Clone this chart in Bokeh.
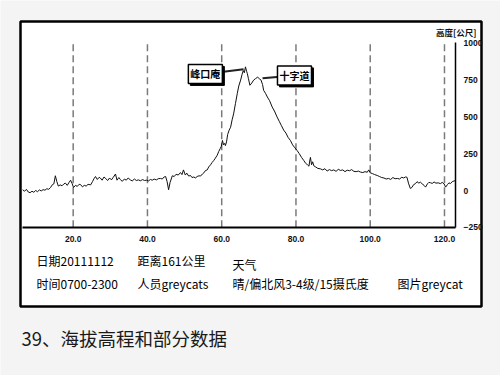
from bokeh.plotting import figure
from bokeh.models import Range1d, FixedTicker, NumeralTickFormatter, Label, BoxAnnotation
from bokeh.embed import file_html
from bokeh.resources import INLINE

# ---- data ----
distance_km = [
    6.4, 6.9, 7.4, 7.9, 8.4, 8.9, 9.4, 9.9, 10.4, 10.9, 11.4, 11.9, 12.4, 12.9, 13.4, 13.9,
    14.4, 14.8, 15.2, 15.6, 16.0, 16.5, 17.0, 17.5, 17.9, 18.4, 18.9, 19.3, 19.7, 20.1, 20.6,
    21.1, 21.6, 22.0, 22.5, 23.0, 23.5, 24.0, 24.7, 25.2, 25.6, 26.0, 26.5, 27.0, 27.3, 27.8,
    28.3, 28.8, 29.3, 29.8, 30.3, 30.8, 31.4, 31.8, 32.3, 32.7, 33.2, 33.8, 34.3, 34.8, 35.4,
    35.9, 36.5, 37.0, 37.6, 38.1, 38.7, 39.2, 39.8, 40.3, 40.8, 41.3, 41.8, 42.4, 42.9, 43.5,
    44.0, 44.5, 44.9, 45.3, 45.7, 46.1, 46.7, 47.2, 47.7, 48.3, 48.9, 49.3, 49.7, 50.2, 50.6,
    51.1, 51.6, 52.0, 52.5, 52.9, 53.4, 53.9, 54.3, 54.8, 55.2, 55.6, 56.1, 56.5, 57.0, 57.4,
    57.9, 58.3, 58.8, 59.2, 59.6, 59.9, 60.2, 60.5, 60.8, 61.0, 61.3, 61.6, 62.0, 62.4, 62.8,
    63.2, 63.7, 64.2, 64.6, 65.1, 65.5, 65.8, 66.1, 66.4, 66.7, 66.9, 67.2, 67.6, 68.1, 68.6,
    69.1, 69.7, 70.1, 70.6, 71.0, 71.3, 71.8, 72.3, 72.9, 73.6, 74.2, 74.9, 75.5, 76.1, 76.7,
    77.3, 77.9, 78.5, 79.1, 79.7, 80.3, 80.9, 81.5, 82.1, 82.6, 83.1, 83.5, 83.7, 83.9, 84.2,
    84.5, 84.8, 85.3, 85.9, 86.6, 87.2, 87.8, 88.4, 89.0, 89.6, 90.2, 90.8, 91.4, 92.0, 92.6,
    93.2, 93.8, 94.4, 95.0, 95.6, 96.2, 96.8, 97.4, 98.0, 98.6, 99.2, 99.6, 100.0, 100.6, 101.2,
    101.9, 102.5, 103.1, 103.7, 104.3, 104.9, 105.5, 106.1, 106.7, 107.3, 107.9, 108.5, 109.0,
    109.5, 109.9, 110.3, 110.8, 111.2, 111.7, 112.2, 112.6, 113.1, 113.5, 114.0, 114.5, 114.9,
    115.4, 115.8, 116.2, 116.7, 117.2, 117.7, 118.3, 118.9, 119.4, 119.9, 120.3, 120.8, 121.2,
    121.6, 122.1, 122.6, 123.0,
]
elevation_m = [
    5, -5, 8, -10, -15, -5, -12, 0, -8, 4, -3, 6, 2, 12, 8, 20,
    40, 45, 100, 60, 30, 38, 32, 45, 50, 35, 55, 70, 48, 20, 35,
    28, 42, 40, 25, 35, 30, 42, 38, 60, 80, 95, 75, 90, 85, 70,
    92, 80, 68, 85, 72, 90, 112, 70, 88, 75, 62, 78, 70, 85, 72,
    65, 78, 68, 72, 66, 74, 68, 70, 65, 75, 70, 78, 72, 80, 82,
    78, 92, 95, 60, 5, 55, 100, 95, 110, 105, 122, 108, 140, 105, 118,
    98, 102, 88, 92, 85, 95, 100, 98, 112, 120, 135, 140, 160, 175, 190,
    205, 220, 240, 265, 285, 300, 340, 310, 320, 305, 330, 380, 410, 430, 480,
    520, 590, 660, 710, 750, 790, 815, 800, 840, 810, 795, 760, 715, 730, 750,
    760, 770, 760, 750, 720, 680, 660, 635, 610, 567, 540, 500, 470, 440, 410,
    390, 360, 340, 310, 290, 272, 250, 225, 204, 185, 175, 165, 200, 225, 175,
    195, 168, 160, 150, 147, 140, 148, 132, 142, 135, 140, 130, 144, 136, 140,
    128, 138, 134, 142, 130, 128, 132, 125, 122, 128, 124, 140, 120, 115, 108,
    102, 95, 88, 85, 78, 82, 75, 88, 80, 82, 78, 90, 85,
    92, 90, 50, 14, 20, 40, 47, 60, 50, 57, 45, 35, 23,
    45, 55, 53, 48, 58, 50, 52, 47, 55, 45, 23, 40, 52,
    47, 60, 65, 68,
]
x_ticks = [20, 40, 60, 80, 100, 120]
y_ticks = [-250, 0, 250, 500, 750, 1000]
x_extent = (6.35, 122.96)     # distance shown on the chart
y_extent = (-250, 1005)       # elevation shown on the chart
y_axis_title = "高度[公尺]"

callout_names = ["峰口庵", "十字道"]
callout_point_km = [65.9, 71.0]
callout_point_m = [823, 762]
callout_label_km = [55.6, 79.6]
callout_label_m = [792, 782]

info_row1 = ["日期20111112", "距离161公里", "天气"]
info_row2 = ["时间0700-2300", "人员greycats", "晴/偏北风3-4级/15摄氏度", "图片greycat"]
caption = "39、海拔高程和部分数据"

# ---- figure: the frame fills the whole canvas, axes are placed with fixed_location ----
W, H = 500, 375
PX_PER_KM = 3.713
PX_PER_M = 36.8 / 250.0
X0_PX, Y0_PX = 22.0, 190.0       # pixel of x_extent[0] and of elevation 0
x_start = x_extent[0] - X0_PX / PX_PER_KM
x_end = x_start + W / PX_PER_KM
y_end = Y0_PX / PX_PER_M
y_start = y_end - H / PX_PER_M

p = figure(width=W, height=H, output_backend="svg", toolbar_location=None,
           x_range=Range1d(x_start, x_end), y_range=Range1d(y_start, y_end),
           y_axis_location="right",
           min_border_left=0, min_border_right=0, min_border_top=0, min_border_bottom=0)
p.title.visible = False
p.border_fill_color = "#f4f4f4"
p.background_fill_color = "#f4f4f4"
p.outline_line_color = None


def sy(py):
    return H - py


# outer white panel with black border
p.add_layout(BoxAnnotation(left=20, right=481, top=sy(21), bottom=sy(306),
                           left_units="screen", right_units="screen",
                           top_units="screen", bottom_units="screen",
                           fill_color="white", fill_alpha=1.0,
                           line_color="black", line_width=2.5, line_alpha=1.0,
                           level="image", editable=False))

p.xgrid.visible = False
p.ygrid.visible = False

# dashed verticals at the x ticks
p.segment(x0=x_ticks, y0=[y_extent[0]] * len(x_ticks), x1=x_ticks, y1=[y_extent[1]] * len(x_ticks),
          line_color="#7a7a7a", line_width=1.5, line_dash="7 4")

# axes
xa = p.xaxis[0]
xa.fixed_location = y_extent[0]
xa.bounds = x_extent
xa.ticker = FixedTicker(ticks=x_ticks)
xa.formatter = NumeralTickFormatter(format="0.0")
xa.axis_line_color = "black"
xa.axis_line_width = 2
xa.major_tick_line_color = None
xa.minor_tick_line_color = None
xa.major_label_text_font = "Liberation Sans"
xa.major_label_text_font_style = "bold"
xa.major_label_text_font_size = "8.5px"
xa.major_label_text_color = "#111"
xa.major_label_standoff = 3

ya = p.yaxis[0]
ya.fixed_location = x_extent[1]
ya.bounds = y_extent
ya.ticker = FixedTicker(ticks=y_ticks)
ya.axis_line_color = "black"
ya.axis_line_width = 1.5
ya.major_tick_line_color = None
ya.minor_tick_line_color = None
ya.major_label_text_font = "Liberation Sans"
ya.major_label_text_font_style = "bold"
ya.major_label_text_font_size = "8.5px"
ya.major_label_text_color = "#111"
ya.major_label_standoff = 2

# profile line
p.line(distance_km, elevation_m, line_color="#111111", line_width=1)

# callouts
p.segment(callout_point_km, callout_point_m, callout_label_km, callout_label_m,
          line_color="#222222", line_width=2)
for name, lx, ly in zip(callout_names, callout_label_km, callout_label_m):
    p.add_layout(Label(x=lx, y=ly, text=name, x_offset=2, y_offset=-2,
                       text_align="center", text_baseline="middle",
                       text_font="Noto Sans CJK SC", text_font_style="bold",
                       text_font_size="10px", text_color="black",
                       background_fill_color="black", border_line_color="black",
                       padding=2))
    p.add_layout(Label(x=lx, y=ly, text=name,
                       text_align="center", text_baseline="middle",
                       text_font="Noto Sans CJK SC", text_font_style="bold",
                       text_font_size="10px", text_color="black",
                       background_fill_color="white", border_line_color="black",
                       border_line_width=1.5, padding=2))

# axis title
p.add_layout(Label(x=476, y=sy(31), x_units="screen", y_units="screen",
                   text=y_axis_title, text_align="right", text_baseline="middle",
                   text_font="Noto Sans CJK SC", text_font_style="bold",
                   text_font_size="8.5px", text_color="#111"))

# info rows
row1_x = [36, 137, 232]
row1_y = [260, 260, 264]
for t, x, y in zip(info_row1, row1_x, row1_y):
    p.add_layout(Label(x=x, y=sy(y), x_units="screen", y_units="screen",
                       text=t, text_align="left", text_baseline="middle",
                       text_font="Noto Sans CJK SC", text_font_size="12px",
                       text_color="black"))
row2_x = [36, 137, 232, 397]
for t, x in zip(info_row2, row2_x):
    p.add_layout(Label(x=x, y=sy(283), x_units="screen", y_units="screen",
                       text=t, text_align="left", text_baseline="middle",
                       text_font="Noto Sans CJK SC", text_font_size="12px",
                       text_color="black"))

# caption under the panel
p.add_layout(Label(x=21, y=sy(337), x_units="screen", y_units="screen",
                   text=caption, text_align="left", text_baseline="middle",
                   text_font="Noto Sans CJK SC", text_font_size="18.5px",
                   text_color="#1a1a1a"))

open("out.html", "w").write(file_html(p, INLINE))
